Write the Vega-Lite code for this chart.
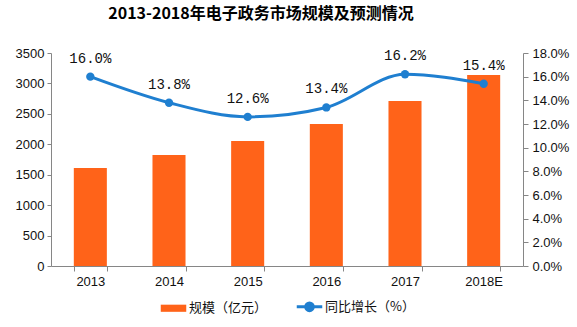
{
  "$schema": "https://vega.github.io/schema/vega-lite/v6.json",
  "autosize": "none",
  "width": 472,
  "height": 213,
  "padding": {"left": 51, "top": 53, "right": 54, "bottom": 61},
  "background": "white",
  "title": {
    "text": "2013-2018年电子政务市场规模及预测情况",
    "font": "Noto Sans CJK SC",
    "fontSize": 16,
    "fontWeight": "bold",
    "color": "#000000",
    "anchor": "middle",
    "dx": -26,
    "offset": 25
  },
  "config": {
    "view": {"stroke": null},
    "axis": {
      "labelFont": "Liberation Sans",
      "labelFontSize": 13,
      "labelColor": "#111111",
      "domainColor": "#868686",
      "tickColor": "#868686",
      "grid": false,
      "title": null
    }
  },
  "data": {
    "values": [
      {"year": "2013", "scale": 1610, "rate": 0.160},
      {"year": "2014", "scale": 1824, "rate": 0.138},
      {"year": "2015", "scale": 2054, "rate": 0.126},
      {"year": "2016", "scale": 2333, "rate": 0.134},
      {"year": "2017", "scale": 2711, "rate": 0.162},
      {"year": "2018E", "scale": 3138, "rate": 0.154}
    ]
  },
  "encoding": {
    "x": {
      "field": "year",
      "type": "ordinal",
      "sort": null,
      "scale": {"paddingInner": 0.58, "paddingOuter": 0.29},
      "axis": {"labelAngle": 0, "tickBand": "extent", "tickSize": 5, "labelPadding": 4, "domainWidth": 1}
    }
  },
  "layer": [
    {
      "mark": {"type": "bar"},
      "encoding": {
        "y": {
          "field": "scale",
          "type": "quantitative",
          "scale": {"domain": [0, 3500], "nice": false},
          "axis": {"values": [0, 500, 1000, 1500, 2000, 2500, 3000, 3500], "format": "d", "tickSize": 4, "labelPadding": 3}
        },
        "color": {
          "datum": "规模（亿元）",
          "type": "nominal",
          "scale": {"domain": ["规模（亿元）", "同比增长（%）"], "range": ["#FF6319", "#1F7FD0"]},
          "legend": {
            "orient": "none",
            "legendX": 116,
            "legendY": 247,
            "padding": 0,
            "direction": "horizontal",
            "title": null,
            "labelFont": "Noto Sans CJK SC",
            "labelFontSize": 13,
            "labelColor": "#111111",
            "symbolSize": 650,
            "columnPadding": 22,
            "labelOffset": 9,
            "encode": {
              "symbols": {
                "update": {
                  "shape": {"signal": "datum.value === '规模（亿元）' ? 'M-1,-0.28H1V0.28H-1Z' : 'M-1,0H1M-0.3,0A0.3,0.3 0 1,0 0.3,0A0.3,0.3 0 1,0 -0.3,0'"},
                  "fill": {"signal": "datum.value === '规模（亿元）' ? '#FF6319' : '#1F7FD0'"},
                  "stroke": {"signal": "datum.value === '规模（亿元）' ? '#FF6319' : '#1F7FD0'"},
                  "strokeWidth": {"signal": "datum.value === '规模（亿元）' ? 0 : 3"},
                  "opacity": {"value": 1},
                  "fillOpacity": {"value": 1}
                }
              }
            }
          }
        }
      }
    },
    {
      "mark": {"type": "line", "interpolate": "monotone", "strokeWidth": 3, "point": {"filled": true, "size": 70}},
      "encoding": {
        "y": {
          "field": "rate",
          "type": "quantitative",
          "scale": {"domain": [0, 0.18], "nice": false},
          "axis": {"orient": "right", "format": ".1%", "values": [0, 0.02, 0.04, 0.06, 0.08, 0.1, 0.12, 0.14, 0.16, 0.18], "tickSize": 5, "labelPadding": 4}
        },
        "color": {"datum": "同比增长（%）", "type": "nominal"}
      }
    },
    {
      "mark": {"type": "text", "dy": -18, "font": "Liberation Mono", "fontSize": 14, "color": "#111111"},
      "encoding": {
        "y": {"field": "rate", "type": "quantitative", "scale": {"domain": [0, 0.18], "nice": false}, "axis": null},
        "text": {"field": "rate", "type": "quantitative", "format": ".1%"}
      }
    }
  ],
  "resolve": {"scale": {"y": "independent"}}
}
